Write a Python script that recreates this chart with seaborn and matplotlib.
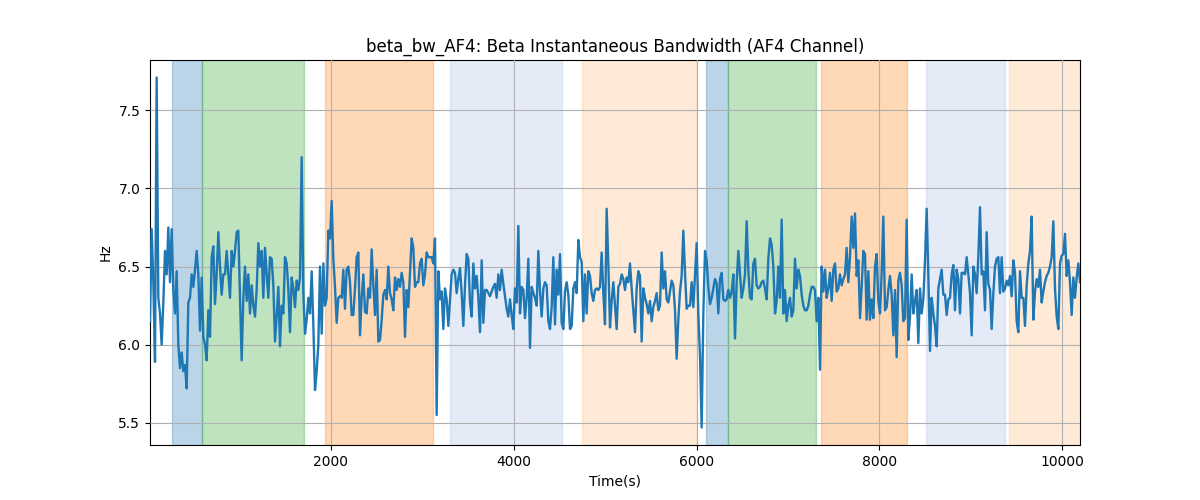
import numpy as np
import pandas as pd
import matplotlib
matplotlib.use("Agg")
import matplotlib.pyplot as plt
import seaborn as sns

# ---- data ----
t_start = 20.0
t_end = 10195.0

bw_values = [
    # segment 1
    6.15, 6.74, 6.40, 5.89, 7.71, 6.30, 6.20, 6.00, 6.27, 6.60,
    6.45, 6.75, 6.40, 6.74, 6.35, 6.20, 6.47, 6.00, 5.85, 5.95,
    5.83, 5.87, 5.72, 6.27, 6.30, 6.45, 6.37, 6.48, 6.60, 6.45,
    6.09, 6.43, 6.05, 6.00, 5.90, 6.22, 6.05, 6.56, 6.63, 6.26,
    6.45, 6.72, 6.50, 6.32, 6.45, 6.45, 6.60, 6.45, 6.30, 6.60,
    6.50, 6.60, 6.72, 6.73, 6.30, 5.90, 6.30, 6.50, 6.28, 6.45,
    6.20, 6.38, 6.25, 6.18, 6.35, 6.65, 6.50, 6.60, 6.30, 6.62,
    # segment 2
    6.45, 6.30, 6.56, 6.55, 6.38, 6.02, 6.18, 6.37, 5.99, 6.25,
    6.20, 6.56, 6.52, 6.36, 6.08, 6.43, 6.36, 6.24, 6.41, 6.35,
    6.43, 7.20, 6.33, 6.07, 6.16, 6.30, 6.20, 6.47, 6.13, 5.71,
    5.83, 6.00, 6.50, 6.07, 6.52, 6.25, 6.30, 6.73, 6.68, 6.92,
    6.55, 6.37, 6.14, 6.30, 6.31, 6.30, 6.48, 6.23, 6.48, 6.50,
    6.40, 6.19, 6.19, 6.36, 6.56, 6.59, 6.06, 6.30, 6.45, 6.21,
    6.20, 6.36, 6.30, 6.61, 6.38, 6.19, 6.48, 6.02, 6.03, 6.16,
    # segment 3
    6.32, 6.35, 6.29, 6.50, 6.33, 6.29, 6.22, 6.43, 6.35, 6.42,
    6.37, 6.46, 6.40, 6.05, 6.35, 6.24, 6.46, 6.68, 6.62, 6.37,
    6.40, 6.40, 6.52, 6.55, 6.38, 6.45, 6.59, 6.56, 6.56, 6.56,
    6.52, 6.68, 5.55, 6.47, 6.29, 6.34, 6.10, 6.36, 6.29, 6.12,
    6.28, 6.45, 6.48, 6.46, 6.33, 6.42, 6.49, 6.33, 6.12, 6.38,
    6.58, 6.55, 6.27, 6.18, 6.52, 6.36, 6.44, 6.30, 6.08, 6.54,
    6.14, 6.35, 6.35, 6.33, 6.31, 6.34, 6.37, 6.39, 6.30, 6.45,
    # segment 4
    6.35, 6.48, 6.39, 6.31, 6.23, 6.18, 6.29, 6.19, 6.10, 6.36,
    6.27, 6.76, 6.20, 6.37, 6.35, 6.17, 6.30, 6.55, 5.98, 6.37,
    6.33, 6.30, 6.25, 6.60, 6.34, 6.18, 6.36, 6.40, 6.38, 6.15,
    6.10, 6.24, 6.56, 6.13, 6.48, 6.32, 6.58, 6.14, 6.10, 6.34,
    6.40, 6.32, 6.10, 6.12, 6.36, 6.40, 6.33, 6.67, 6.56, 6.53,
    6.15, 6.45, 6.20, 6.47, 6.44, 6.33, 6.28, 6.35, 6.36, 6.35,
    6.37, 6.59, 6.33, 6.13, 6.87, 6.52, 6.11, 6.28, 6.40, 6.25,
    # segment 5
    6.10, 6.37, 6.39, 6.45, 6.42, 6.35, 6.43, 6.40, 6.52, 6.36,
    6.22, 6.08, 6.36, 6.47, 6.44, 6.02, 6.36, 6.30, 6.26, 6.20,
    6.28, 6.15, 6.24, 6.28, 6.33, 6.22, 6.25, 6.59, 6.36, 6.47,
    6.29, 6.27, 6.34, 6.41, 6.38, 6.22, 5.91, 6.16, 6.34, 6.44,
    6.73, 6.46, 6.23, 6.25, 6.25, 6.40, 6.24, 6.45, 6.65, 6.20,
    5.93, 5.47, 6.20, 6.60, 6.54, 6.37, 6.26, 6.30, 6.36, 6.42,
    6.39, 6.20, 6.42, 6.46, 6.29, 6.28, 6.29, 6.35, 6.30,
    # segment 6
    6.34, 6.45, 6.04, 6.40, 6.60, 6.45, 6.30, 6.36, 6.45, 6.79,
    6.48, 6.30, 6.29, 6.52, 6.55, 6.38, 6.36, 6.37, 6.40, 6.41,
    6.36, 6.29, 6.55, 6.68, 6.64, 6.50, 6.20, 6.28, 6.50, 6.30,
    6.80, 6.20, 6.35, 6.15, 6.25, 6.30, 6.18, 6.22, 6.55, 6.36,
    6.48, 6.44, 6.32, 6.25, 6.22, 6.22, 6.25, 6.32, 6.37, 6.37,
    6.35, 6.15, 6.30, 5.84, 6.50, 6.34, 6.48, 6.30, 6.36, 6.46,
    6.28, 6.48, 6.52, 6.34, 6.36, 6.45, 6.38, 6.42, 6.45, 6.62,
    # segment 7
    6.40, 6.56, 6.82, 6.62, 6.84, 6.44, 6.54, 6.17, 6.37, 6.60,
    6.58, 6.16, 6.47, 6.16, 6.29, 6.17, 6.50, 6.58, 6.28, 6.20,
    6.46, 6.82, 6.22, 6.24, 6.35, 6.44, 6.32, 6.06, 6.35, 5.92,
    6.41, 6.46, 6.38, 6.15, 6.17, 6.80, 6.03, 6.18, 6.45, 6.20,
    6.28, 6.35, 6.01, 6.36, 6.20, 6.29, 6.54, 6.87, 6.45, 5.96,
    6.30, 6.20, 6.12, 5.99, 6.36, 6.42, 6.48, 6.32, 6.32, 6.19,
    6.29, 6.30, 6.45, 6.51, 6.22, 6.48, 6.42, 6.20, 6.46,
    # segment 8
    6.46, 6.45, 6.56, 6.45, 6.33, 6.06, 6.50, 6.45, 6.33, 6.56,
    6.88, 6.45, 6.47, 6.22, 6.72, 6.39, 6.35, 6.10, 6.33, 6.50,
    6.55, 6.56, 6.33, 6.56, 6.34, 6.36, 6.41, 6.38, 6.44, 6.31,
    6.54, 6.46, 6.15, 6.08, 6.47, 6.30, 6.30, 6.12, 6.38, 6.52,
    6.60, 6.82, 6.16, 6.34, 6.42, 6.37, 6.48, 6.27, 6.34, 6.40,
    6.44, 6.46, 6.50, 6.56, 6.79, 6.36, 6.18, 6.10, 6.52, 6.57,
    6.58, 6.71, 6.44, 6.54, 6.40, 6.19, 6.43, 6.30, 6.43, 6.52,
    6.40,
]

# shaded phases: (start, end, colour, alpha)
span_starts = [260, 585, 1934, 3305, 4746, 6102, 6346, 7360, 8509, 9413]
span_ends = [585, 1708, 3112, 4524, 5996, 6346, 7302, 8298, 9373, 10250]
span_colors = ["tab:blue", "tab:green", "tab:orange", "#7a9fd9", "tab:orange",
               "tab:blue", "tab:green", "tab:orange", "#7a9fd9", "tab:orange"]
span_alphas = [0.3, 0.3, 0.3, 0.2, 0.16, 0.3, 0.3, 0.3, 0.2, 0.16]

# ---- build table ----
time_s = np.linspace(t_start, t_end, len(bw_values))
df = pd.DataFrame({"Time(s)": time_s, "Hz": bw_values})

fig, ax = plt.subplots(figsize=(12, 5), dpi=100)

for s, e, c, a in zip(span_starts, span_ends, span_colors, span_alphas):
    ax.axvspan(s, e, color=c, alpha=a, zorder=0)

sns.lineplot(data=df, x="Time(s)", y="Hz", ax=ax, color="tab:blue",
             linewidth=1.7, zorder=3)

ax.set_xlim(time_s[0], time_s[-1])
ax.grid(True, color="#b0b0b0", linewidth=0.8)
ax.set_axisbelow(False)
ax.set_title("beta_bw_AF4: Beta Instantaneous Bandwidth (AF4 Channel)")
ax.set_xlabel("Time(s)")
ax.set_ylabel("Hz")

fig.savefig("out.png", dpi=100)
